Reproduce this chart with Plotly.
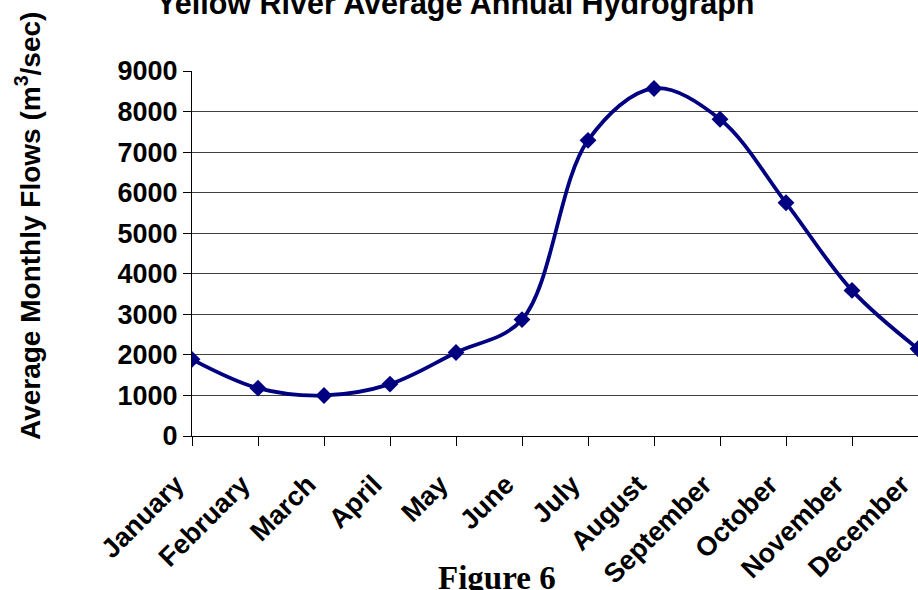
import plotly.graph_objects as go

months = ["January", "February", "March", "April", "May", "June", "July",
          "August", "September", "October", "November", "December"]
flows = [1890, 1180, 1000, 1280, 2060, 2870, 7290, 8570, 7810, 5750, 3590, 2150]
y_ticks = [0, 1000, 2000, 3000, 4000, 5000, 6000, 7000, 8000, 9000]

title_text = "Yellow River Average Annual Hydrograph"
ylabel_text = "Average Monthly Flows (m<sup>3</sup>/sec)"
caption_text = "Figure 6"

NAVY = "#000080"
SANS = "Liberation Sans"

fig = go.Figure()
fig.add_trace(go.Scatter(
    x=months, y=flows, mode="lines+markers",
    line=dict(color=NAVY, width=3.8, shape="spline", smoothing=1.0),
    marker=dict(symbol="diamond", size=13, color=NAVY),
    cliponaxis=True, showlegend=False,
))

fig.update_layout(
    width=918, height=590,
    margin=dict(l=192, r=0, t=71, b=154, autoexpand=False),
    paper_bgcolor="white", plot_bgcolor="white",
    title=dict(text=title_text, x=0.496, xanchor="center", y=0.995, yanchor="middle",
               yref="container",
               font=dict(family=SANS, size=30.5, color="black", weight="bold")),
    xaxis=dict(type="category", range=[0, 11], showgrid=False, automargin=False,
               showline=True, linecolor="black", linewidth=1,
               ticks="outside", ticklen=9, tickcolor="black", tickangle=-45,
               ticklabelstandoff=12, ticklabelshift=-16,
               tickfont=dict(family=SANS, size=27, color="black", weight="bold")),
    yaxis=dict(range=[0, 9000], tickvals=y_ticks, showgrid=True, automargin=False,
               gridcolor="#404040", gridwidth=1, zeroline=False,
               showline=True, linecolor="black", linewidth=1,
               ticks="outside", ticklen=8, tickcolor="black",
               tickfont=dict(family=SANS, size=27, color="black", weight="bold")),
    annotations=[
        dict(text=ylabel_text, xref="paper", yref="paper", x=-0.226, y=0.575,
             xanchor="center", yanchor="middle", textangle=-90, showarrow=False,
             font=dict(family=SANS, size=28, color="black", weight="bold")),
        dict(text=caption_text, xref="paper", yref="paper", x=0.42, y=-0.389,
             xanchor="center", yanchor="middle", showarrow=False,
             font=dict(family="Liberation Serif", size=33, color="black", weight="bold")),
    ],
)

fig.write_html("out.html", config={"displayModeBar": False},
               post_script="document.body.style.margin='0';")
